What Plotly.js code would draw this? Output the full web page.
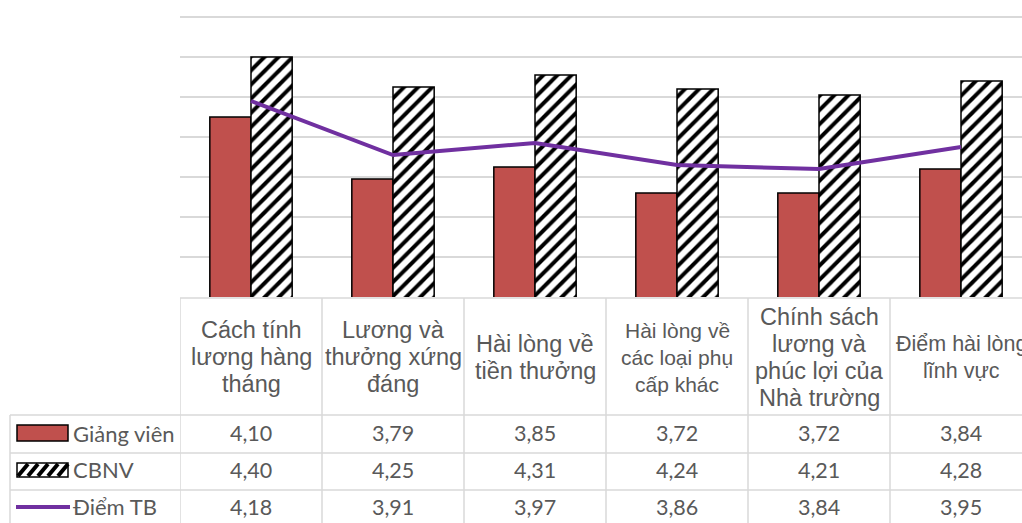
<!DOCTYPE html>
<html>
<head>
<meta charset="utf-8">
<script src="https://cdn.plot.ly/plotly-3.0.1.min.js"></script>
<style>html,body{margin:0;padding:0;background:#fff;}#chart{width:1022px;height:523px;}</style>
</head>
<body>
<div id="chart"></div>
<script>
// ---- data ----
var categories = ["Cách tính lương hàng tháng", "Lương và thưởng xứng đáng", "Hài lòng về tiền thưởng",
  "Hài lòng về các loại phụ cấp khác", "Chính sách lương và phúc lợi của Nhà trường", "Điểm hài lòng lĩnh vực"];
var categoryLabels = ["Cách tính<br>lương hàng<br>tháng", "Lương và<br>thưởng xứng<br>đáng", "Hài lòng về<br>tiền thưởng",
  "Hài lòng về<br>các loại phụ<br>cấp khác", "Chính sách<br>lương và<br>phúc lợi của<br>Nhà trường", "Điểm hài lòng<br>lĩnh vực"];
var giangVien = [4.10, 3.79, 3.85, 3.72, 3.72, 3.84];
var cbnv = [4.40, 4.25, 4.31, 4.24, 4.21, 4.28];
var diemTB = [4.18, 3.91, 3.97, 3.86, 3.84, 3.95];
var seriesNames = ["Giảng viên", "CBNV", "Điểm TB"];

// ---- layout helpers (pixel geometry) ----
var W = 1022, H = 523, L = 180, PH = 297, PW = W - L;
function X(px) { return (px - L) / PW; }
function Y(py) { return 1 - py / PH; }
var labelSizes = [23.5, 23.5, 23.5, 21, 23.5, 21.5];
var grey = "#595959", gridC = "#d9d9d9";

var traces = [
  { type: "bar", name: seriesNames[0], x: categories, y: giangVien,
    marker: { color: "#C0504D", line: { color: "#000", width: 1.5 } } },
  { type: "bar", name: seriesNames[1], x: categories, y: cbnv,
    marker: { color: "#fff", line: { color: "#000", width: 1.5 },
      pattern: { shape: "/", fgcolor: "#000", bgcolor: "#fff", size: 10, solidity: 0.4 } } },
  { type: "scatter", mode: "lines", name: seriesNames[2], x: categories, y: diemTB,
    line: { color: "#7030A0", width: 4 } }
];

var shapes = [], annotations = [];
function hline(py, x0, x1) {
  shapes.push({ type: "line", xref: "paper", yref: "paper", x0: X(x0), x1: X(x1), y0: Y(py), y1: Y(py),
    line: { color: gridC, width: 1.5 } });
}
function vline(px, y0, y1) {
  shapes.push({ type: "line", xref: "paper", yref: "paper", x0: X(px), x1: X(px), y0: Y(y0), y1: Y(y1),
    line: { color: gridC, width: 1.5 } });
}
// table grid
hline(298, 180, 1022);
hline(415, 10, 1022);
hline(453, 10, 1022);
hline(490, 10, 1022);
vline(10, 415, 523);
for (var i = 0; i < categories.length; i++) {
  shapes.push({ type: "line", xref: "x", yref: "paper", x0: i - 0.5, x1: i - 0.5, y0: Y(298), y1: Y(523),
    line: { color: gridC, width: 1.5 } });
}

// category labels (one annotation per line, 27px line spacing) and values
var rowsY = [433, 470, 507];
var allSeries = [giangVien, cbnv, diemTB];
function fmt(v) { return v.toFixed(2).replace(".", ","); }
for (var i = 0; i < categories.length; i++) {
  var lines = categoryLabels[i].split("<br>");
  for (var j = 0; j < lines.length; j++) {
    var cy = 357 + (j - (lines.length - 1) / 2) * 27;
    annotations.push({ xref: "x", yref: "paper", x: i, y: Y(cy), text: lines[j], showarrow: false,
      xanchor: "center", yanchor: "middle", align: "center",
      font: { family: "Liberation Sans, Arial, sans-serif", size: labelSizes[i], color: grey } });
  }
  for (var r = 0; r < 3; r++) {
    annotations.push({ xref: "x", yref: "paper", x: i, y: Y(rowsY[r]), text: fmt(allSeries[r][i]), showarrow: false,
      xanchor: "center", yanchor: "middle",
      font: { family: "Lato, Open Sans, sans-serif", size: 21.5, color: grey } });
  }
}
// legend keys
shapes.push({ type: "rect", xref: "paper", yref: "paper", x0: X(17), x1: X(68), y0: Y(425), y1: Y(441),
  fillcolor: "#C0504D", line: { color: "#000", width: 1.5 } });
shapes.push({ type: "rect", xref: "paper", yref: "paper", x0: X(17), x1: X(68), y0: Y(463), y1: Y(477),
  fillcolor: "#fff", line: { color: "#000", width: 1.5 } });
for (var k = 0; k < 5; k++) {
  var a = 18 + k * 10;
  shapes.push({ type: "line", xref: "paper", yref: "paper", x0: X(a), x1: X(a + 10), y0: Y(476), y1: Y(464),
    line: { color: "#000", width: 4 } });
}
shapes.push({ type: "line", xref: "paper", yref: "paper", x0: X(16), x1: X(70), y0: Y(507), y1: Y(507),
  line: { color: "#7030A0", width: 4 } });
for (var r = 0; r < 3; r++) {
  annotations.push({ xref: "paper", yref: "paper", x: X(71), y: Y(rowsY[r]), text: seriesNames[r], showarrow: false,
    xanchor: "left", yanchor: "middle",
    font: { family: "Lato, Open Sans, sans-serif", size: 22, color: grey } });
}

var layout = {
  width: W, height: H,
  margin: { l: L, r: 0, t: 0, b: H - PH, pad: 0 },
  paper_bgcolor: "#fff", plot_bgcolor: "#fff",
  showlegend: false,
  barmode: "group", bargap: 0.42, bargroupgap: 0,
  xaxis: { type: "category", range: [-0.5, 5.5 - 10 / 142], showticklabels: false, showgrid: false,
    showline: false, zeroline: false, ticks: "" },
  yaxis: { range: [3.2, 4.6 + 17 / 200], dtick: 0.2, tick0: 3.2, showticklabels: false, showgrid: true,
    gridcolor: gridC, gridwidth: 1.5, zeroline: false, showline: false, ticks: "" },
  shapes: shapes,
  annotations: annotations
};
Plotly.newPlot("chart", traces, layout, { staticPlot: true, displayModeBar: false });
</script>
</body>
</html>
